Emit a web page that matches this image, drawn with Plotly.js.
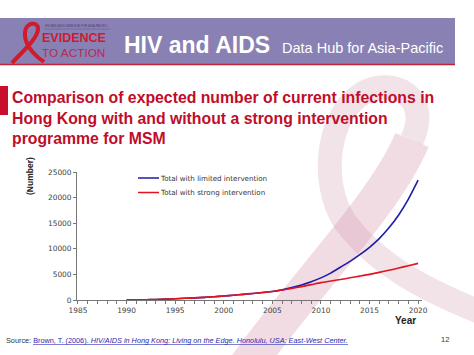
<!DOCTYPE html>
<html><head><meta charset="utf-8">
<script src="https://cdn.plot.ly/plotly-3.0.1.min.js"></script>
<style>html,body{margin:0;padding:0;background:#fff}#c{width:474px;height:355px}</style>
</head><body><div id="c"></div>
<script>
const years = [1990,1991,1992,1993,1994,1995,1996,1997,1998,1999,2000,2001,2002,2003,2004,2005,2006,2007,2008,2009,2010,2011,2012,2013,2014,2015,2016,2017,2018,2019,2020];
const limitedIntervention = [0,20,50,100,170,250,330,420,520,640,780,930,1100,1280,1460,1650,1980,2420,2950,3580,4320,5250,6400,7550,8850,10300,12000,14100,16600,19700,23400];
const strongIntervention  = [0,20,50,100,170,250,330,420,520,640,780,930,1100,1280,1460,1650,1950,2270,2620,3000,3400,3700,4000,4330,4660,5000,5400,5800,6250,6700,7150];
const seriesNames = ['Total with limited intervention','Total with strong intervention'];
const xTicks = [1985,1990,1995,2000,2005,2010,2015,2020];
const yTicks = [0,5000,10000,15000,20000,25000];

// pixel -> paper helpers (plot area: x 77..422, y 172..300)
const L=77, W=345, T=172, H=128;
const xp = px => (px - L)/W;
const yp = py => (T + H - py)/H;
function path(cmds){
  return cmds.map(c=>{const l=c[0];const a=[];for(let i=1;i<c.length;i+=2){a.push(xp(c[i]).toFixed(4)+','+yp(c[i+1]).toFixed(4));}return l+' '+a.join(' ');}).join(' ');
}

const traces = [
  {x:years, y:limitedIntervention, name:seriesNames[0], mode:'lines', line:{color:'#1c1ca8', width:1.6, shape:'spline', smoothing:0.6}, hoverinfo:'skip'},
  {x:years, y:strongIntervention, name:seriesNames[1], mode:'lines', line:{color:'#e0141e', width:1.6, shape:'spline', smoothing:0.6}, hoverinfo:'skip'}
];

const wm = 'rgba(200,140,165,0.24)';
const shapes = [
  // watermark ribbon (decorative)
  {type:'path', xref:'paper', yref:'paper', layer:'below', line:{color:'rgba(200,120,150,0.26)', width:36},
   path: path([['M',245,368],['C',300,290, 385,205, 412,140]])},
  {type:'path', xref:'paper', yref:'paper', layer:'below', line:{color:wm, width:24},
   path: path([['M',412,140],['C',432,95, 392,78, 365,92],['C',328,112, 318,180, 345,222],['C',380,268, 430,292, 485,314]])},
  // header band
  {type:'rect', xref:'paper', yref:'paper', x0:xp(0), x1:xp(455), y0:yp(64), y1:yp(18), fillcolor:'#8981b3', line:{width:0}},
  {type:'line', xref:'paper', yref:'paper', x0:xp(0), x1:xp(455), y0:yp(64.5), y1:yp(64.5), line:{color:'#c0203a', width:1.5}},
  // logo ribbon
  {type:'path', xref:'paper', yref:'paper', line:{color:'#d21a2a', width:4},
   path: path([['M',12,63],['C',22,52, 38,38, 38,29],['C',38,21, 26,22, 25,32],['C',24,42, 30,52, 44,62]])},
  {type:'line', xref:'paper', yref:'paper', x0:xp(44), x1:xp(110), y0:yp(29), y1:yp(29), line:{color:'#6a5e96', width:0.6}},
  // title red bar
  {type:'rect', xref:'paper', yref:'paper', x0:xp(0), x1:xp(8), y0:yp(115), y1:yp(86), fillcolor:'#c8102e', line:{width:0}},
  // legend samples
  {type:'line', xref:'paper', yref:'paper', x0:xp(138), x1:xp(159), y0:yp(178), y1:yp(178), line:{color:'#1c1ca8', width:1.5}},
  {type:'line', xref:'paper', yref:'paper', x0:xp(138), x1:xp(159), y0:yp(192.5), y1:yp(192.5), line:{color:'#e0141e', width:1.5}},
  // link underline
  {type:'line', xref:'paper', yref:'paper', x0:xp(33), x1:xp(348), y0:yp(344.5), y1:yp(344.5), line:{color:'#2a2ab0', width:0.6}}
];

const F = 'Arial, Liberation Sans, sans-serif';
const A = (text, x, y, o) => Object.assign({text, xref:'paper', yref:'paper', x:xp(x), y:yp(y), showarrow:false, xanchor:'left', yanchor:'middle', borderpad:0, font:{family:F, size:8, color:'#333'}}, o||{});
const annotations = [
  A('<b>HIV and AIDS</b>', 123, 45, {font:{family:F, size:23, color:'#ffffff'}}),
  A('Data Hub for Asia-Pacific', 281, 48, {font:{family:F, size:14.5, color:'#ffffff'}}),
  A('<b>EVIDENCE</b>', 41, 37.5, {font:{family:F, size:12.5, color:'#d01a2e'}}),
  A('TO ACTION', 41, 52.5, {font:{family:F, size:11.8, color:'#b52c52'}}),
  A('HIV AND AIDS DATA HUB FOR ASIA-PACIFIC', 44, 25.5, {font:{family:F, size:3, color:'#5a3a70'}}),
  A('<b>Comparison of expected number of current infections in<br>Hong Kong with and without a strong intervention<br>programme for MSM</b>', 11, 118,
    {font:{family:F, size:15.8, color:'#c00d2a'}, align:'left'}),
  A('<b>(Number)</b>', 30, 176, {textangle:-90, xanchor:'center', font:{family:F, size:8.5, color:'#222'}}),
  A('<b>Year</b>', 405, 320, {xanchor:'center', font:{family:F, size:10, color:'#222'}}),
  A(seriesNames[0], 159, 178, {font:{family:'DejaVu Sans, sans-serif', size:7.1, color:'#333'}}),
  A(seriesNames[1], 159, 192.5, {font:{family:'DejaVu Sans, sans-serif', size:7.1, color:'#333'}}),
  A('Source: <a style="color:#2a2ab0">Brown, T. (2006). <i>HIV/AIDS in Hong Kong: Living on the Edge. Honolulu, USA: East-West Center.</i></a>', 5, 340,
    {font:{family:F, size:7.3, color:'#333'}}),
  A('12', 445, 339, {xanchor:'center', font:{family:F, size:7.5, color:'#333'}})
];

const TF = {family:'DejaVu Sans, sans-serif', size:7.4, color:'#444'};
const layout = {
  width:474, height:355,
  margin:{l:L, r:474-L-W, t:T, b:355-T-H, pad:0},
  paper_bgcolor:'#ffffff', plot_bgcolor:'rgba(0,0,0,0)',
  showlegend:false,
  font:{family:F, size:7.5, color:'#333'},
  xaxis:{range:[1984.9,2020.4], tickvals:xTicks, ticktext:xTicks.map(String), ticks:'outside', ticklen:3, tickcolor:'#777', showline:true, linecolor:'#777', linewidth:1, showgrid:false, zeroline:false,
         minor:{dtick:1, ticks:'outside', ticklen:3, tickcolor:'#777'}, tickfont:TF},
  yaxis:{range:[0,25000], tickvals:yTicks, ticktext:yTicks.map(String), ticks:'outside', ticklen:3, tickcolor:'#777', showline:true, linecolor:'#777', linewidth:1, showgrid:false, zeroline:false, tickfont:TF},
  shapes, annotations
};
Plotly.newPlot('c', traces, layout, {staticPlot:true, displayModeBar:false});
</script></body></html>
